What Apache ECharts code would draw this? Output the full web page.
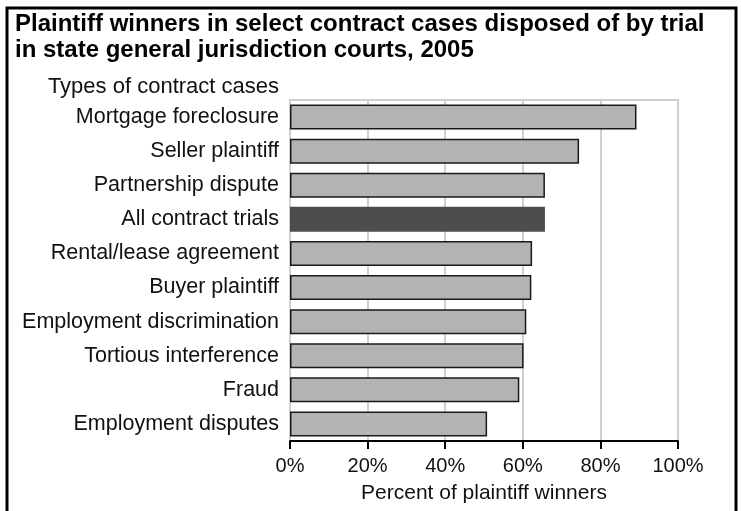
<!DOCTYPE html>
<html>
<head>
<meta charset="utf-8">
<script src="https://cdn.jsdelivr.net/npm/echarts@6/dist/echarts.min.js"></script>
<style>
html,body{margin:0;padding:0;background:#fff;}
#EchartDiv{width:741px;height:511px;}
</style>
</head>
<body>
<div id="EchartDiv"></div>
<script>
// case types, top to bottom
var arrCaseTypes = ['Mortgage foreclosure','Seller plaintiff','Partnership dispute','All contract trials',
	'Rental/lease agreement','Buyer plaintiff','Employment discrimination','Tortious interference',
	'Fraud','Employment disputes'];
// percent of plaintiff winners
var arrWinPct = [89.3, 74.5, 65.7, 65.7, 62.4, 62.2, 60.9, 60.2, 59.1, 50.8];
var arrTicks = [0, 20, 40, 60, 80, 100];
var highlightCase = 'All contract trials';

var myChart = echarts.init(document.getElementById('EchartDiv'));
var fontFam = '"Liberation Sans", Arial, sans-serif';

var barData = [];
for (var i=0;i<arrCaseTypes.length;i++){
	if (arrCaseTypes[i]==highlightCase){
		barData.push({value:arrWinPct[i], itemStyle:{color:'#4d4d4d', borderColor:'#4d4d4d'}});
	}else{
		barData.push(arrWinPct[i]);
	}
}

var option = {
	animation:false,
	backgroundColor:'#fff',
	title:{
		text:'Plaintiff winners in select contract cases disposed of by trial\nin state general jurisdiction courts, 2005',
		left:10,
		top:6,
		textStyle:{fontFamily:fontFam, fontSize:24, fontWeight:'bold', color:'#000', lineHeight:26}
	},
	graphic:[
		{type:'rect', shape:{x:7, y:8, width:729, height:520}, style:{fill:null, stroke:'#000', lineWidth:3}},
		{type:'text', right:462, top:76, style:{text:'Types of contract cases', fontFamily:fontFam, fontSize:22, fill:'#111'}}
	],
	grid:{left:290, right:63, top:100, bottom:70, show:true, borderColor:'#d0d0d0', borderWidth:2},
	xAxis:{
		type:'value',
		min:arrTicks[0], max:arrTicks[arrTicks.length-1], interval:arrTicks[1]-arrTicks[0],
		name:'Percent of plaintiff winners',
		nameLocation:'middle',
		nameGap:42,
		nameTextStyle:{fontFamily:fontFam, fontSize:21, color:'#111'},
		axisLine:{show:true, lineStyle:{color:'#000', width:2}},
		axisTick:{show:true, length:8, lineStyle:{color:'#000', width:2}},
		axisLabel:{formatter:'{value}%', fontFamily:fontFam, fontSize:20, color:'#111', margin:15},
		splitLine:{show:true, lineStyle:{color:'#d0d0d0', width:2}}
	},
	yAxis:{
		type:'category',
		inverse:true,
		data:arrCaseTypes,
		axisLine:{show:false},
		axisTick:{show:false},
		axisLabel:{fontFamily:fontFam, fontSize:21.5, color:'#111', margin:11}
	},
	series:[{
		type:'bar',
		data:barData,
		barWidth:25,
		itemStyle:{color:'#b3b3b3', borderColor:'#1a1a1a', borderWidth:1.5}
	}]
};
myChart.setOption(option);
</script>
</body>
</html>
